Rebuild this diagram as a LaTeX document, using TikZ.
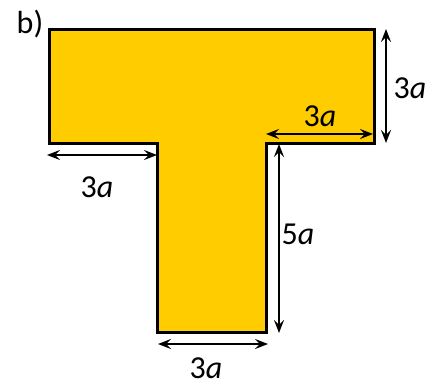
\documentclass[tikz,border=0pt]{standalone}
\usepackage{fontspec}
\setmainfont{Carlito}
\usetikzlibrary{arrows.meta}
\definecolor{tgold}{RGB}{255,204,0}
\begin{document}
\begin{tikzpicture}[x=1pt,y=-1pt,
  dim/.style={line width=2pt,{Stealth[length=13pt,width=10pt,inset=5pt]}-{Stealth[length=13pt,width=10pt,inset=5pt]}},
  lbl/.style={font=\fontsize{32}{36}\selectfont,inner sep=0pt}]
\useasboundingbox (0,0) rectangle (427,385);
\draw[fill=tgold,line width=3pt,line join=miter]
  (49,30) -- (374,30) -- (374,143) -- (266,143) -- (266,332) -- (157,332) -- (157,143) -- (49,143) -- cycle;
\node[lbl] (b) at (30,24) {b)};
% dimension coordinates
\coordinate (l1) at (47,155); \coordinate (l2) at (157,155);
\coordinate (r1) at (266,134); \coordinate (r2) at (373,134);
\coordinate (v1) at (386,29); \coordinate (v2) at (386,143);
\coordinate (s1) at (279,144); \coordinate (s2) at (279,333);
\coordinate (d1) at (158,344); \coordinate (d2) at (268,344);
\draw[dim] (l1) -- (l2);
\draw[dim] (r1) -- (r2);
\draw[dim] (v1) -- (v2);
\draw[dim] (s1) -- (s2);
\draw[dim] (d1) -- (d2);
\node[lbl] (t1) at (97,187) {3\textit{a}};
\node[lbl] (t2) at (320,116) {3\textit{a}};
\node[lbl] (t3) at (410,88) {3\textit{a}};
\node[lbl] (t4) at (298,234) {5\textit{a}};
\node[lbl,anchor=base,text depth=0pt] (t5) at (206,378) {3\textit{a}};
\end{tikzpicture}
\end{document}
